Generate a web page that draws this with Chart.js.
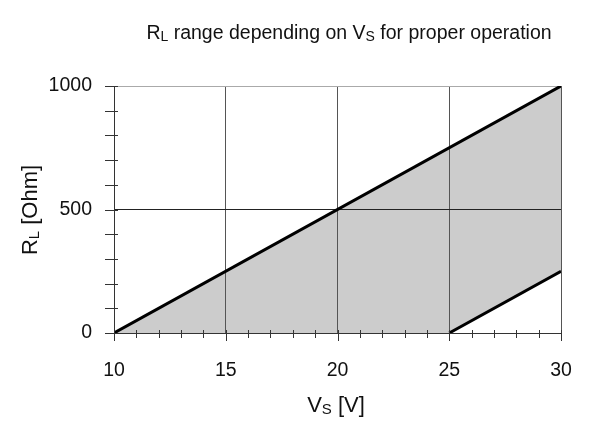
<!DOCTYPE html>
<html lang="en">
<head>
    <meta charset="UTF-8">
    <title>RL range depending on VS</title>
    <style>
        html, body { margin: 0; padding: 0; background: #fff; }
        #wrap { width: 589px; height: 421px; }
    </style>
</head>
<body>
    <div id="wrap"><canvas id="myChart" width="589" height="421"></canvas></div>

    <script src="https://cdn.jsdelivr.net/npm/chart.js@4.4.1/dist/chart.umd.min.js"></script>
    <script>
        // upper limit line (R_L max) and lower limit line (R_L min)
        var vsUpper = [10, 30];
        var rlUpper = [0, 1000];
        var vsLower = [25, 30];
        var rlLower = [0, 250];

        var xTicks = [10, 15, 20, 25, 30];
        var yTicks = [0, 500, 1000];

        var FONT = "'Liberation Sans', Arial, sans-serif";
        var AREA = { left: 114, top: 86, right: 561, bottom: 333 };

        function toPoints(xs, ys) {
            return xs.map(function (x, i) { return { x: x, y: ys[i] }; });
        }

        // closed shape between the two lines
        var shape = toPoints(vsUpper, rlUpper).concat(toPoints(vsLower, rlLower).reverse());

        // draws text where some parts are subscripts
        function drawParts(ctx, parts, x, y, size) {
            var subSize = Math.round(size * 0.7);
            var w = 0;
            parts.forEach(function (p) {
                ctx.font = (p[1] ? subSize : size) + "px " + FONT;
                w += ctx.measureText(p[0]).width;
            });
            var cx = x - w / 2;
            ctx.textAlign = 'left';
            ctx.textBaseline = 'alphabetic';
            parts.forEach(function (p) {
                ctx.font = (p[1] ? subSize : size) + "px " + FONT;
                ctx.fillText(p[0], cx, y + (p[1] ? size * 0.1 : 0));
                cx += ctx.measureText(p[0]).width;
            });
        }

        var decor = {
            id: 'decor',
            afterDraw: function (chart) {
                var ctx = chart.ctx;
                var xs = chart.scales.x, ys = chart.scales.y;
                var a = chart.chartArea;
                ctx.save();
                ctx.strokeStyle = '#333';
                ctx.lineWidth = 1;
                ctx.beginPath();
                for (var v = 10; v <= 30; v++) {
                    var px = Math.round(xs.getPixelForValue(v)) + 0.5;
                    ctx.moveTo(px, a.bottom - 3);
                    ctx.lineTo(px, a.bottom + (v % 5 === 0 ? 8 : 5));
                }
                for (var r = 0; r <= 1000; r += 100) {
                    var py = Math.round(ys.getPixelForValue(r)) + 0.5;
                    ctx.moveTo(a.left - 9, py);
                    ctx.lineTo(a.left + (r === 0 ? 0 : 4), py);
                }
                ctx.stroke();

                ctx.fillStyle = '#111';
                drawParts(ctx, [['R', false], ['L', true], [' range depending on V', false], ['S', true], [' for proper operation', false]], 349, 39, 19.5);
                drawParts(ctx, [['V', false], ['S', true], [' [V]', false]], 336, 412, 22);

                ctx.translate(37, 210);
                ctx.rotate(-Math.PI / 2);
                drawParts(ctx, [['R', false], ['L', true], [' [Ohm]', false]], 0, 0, 22);
                ctx.restore();
            }
        };

        function createChart() {
            var ctx = document.getElementById('myChart').getContext('2d');
            new Chart(ctx, {
                type: 'scatter',
                data: {
                    datasets: [
                        {
                            data: toPoints(vsUpper, rlUpper),
                            showLine: true,
                            borderColor: '#000',
                            borderWidth: 3,
                            pointRadius: 0,
                            fill: false
                        },
                        {
                            data: toPoints(vsLower, rlLower),
                            showLine: true,
                            borderColor: '#000',
                            borderWidth: 3,
                            pointRadius: 0,
                            fill: false
                        },
                        {
                            data: shape,
                            showLine: true,
                            borderWidth: 0,
                            borderColor: 'rgba(0,0,0,0)',
                            backgroundColor: '#cccccc',
                            pointRadius: 0,
                            fill: 'shape'
                        }
                    ]
                },
                options: {
                    responsive: false,
                    animation: false,
                    layout: { padding: { left: 0, top: AREA.top, right: 589 - AREA.right, bottom: 0 } },
                    plugins: {
                        legend: { display: false },
                        tooltip: { enabled: false },
                        filler: { drawTime: 'beforeDraw' }
                    },
                    scales: {
                        x: {
                            type: 'linear',
                            min: 10,
                            max: 30,
                            afterFit: function (s) {
                                s.height = 421 - AREA.bottom;
                                s.paddingLeft = 0;
                                s.paddingRight = 0;
                            },
                            afterBuildTicks: function (s) { s.ticks = xTicks.map(function (v) { return { value: v }; }); },
                            ticks: {
                                autoSkip: false,
                                maxRotation: 0,
                                padding: 26,
                                color: '#111',
                                font: { family: FONT, size: 19.5 },
                                callback: function (v) { return String(v); }
                            },
                            grid: {
                                drawTicks: false,
                                color: function (c) { return c.tick && c.tick.value > 10 ? '#555' : 'rgba(0,0,0,0)'; },
                                lineWidth: 1
                            },
                            border: { color: '#333', width: 1 }
                        },
                        y: {
                            min: 0,
                            max: 1000,
                            afterFit: function (s) {
                                s.width = AREA.left;
                                s.paddingTop = 0;
                                s.paddingBottom = 0;
                            },
                            afterBuildTicks: function (s) { s.ticks = yTicks.map(function (v) { return { value: v }; }); },
                            ticks: {
                                padding: 22,
                                color: '#111',
                                font: { family: FONT, size: 19.5 },
                                callback: function (v) { return String(v); }
                            },
                            grid: {
                                drawTicks: false,
                                color: function (c) {
                                    if (!c.tick) return 'rgba(0,0,0,0)';
                                    if (c.tick.value === 500) return '#222';
                                    if (c.tick.value === 1000) return '#aaa';
                                    return 'rgba(0,0,0,0)';
                                },
                                lineWidth: 1
                            },
                            border: { color: '#333', width: 1 }
                        }
                    }
                },
                plugins: [decor]
            });
        }

        createChart();
    </script>
</body>
</html>
